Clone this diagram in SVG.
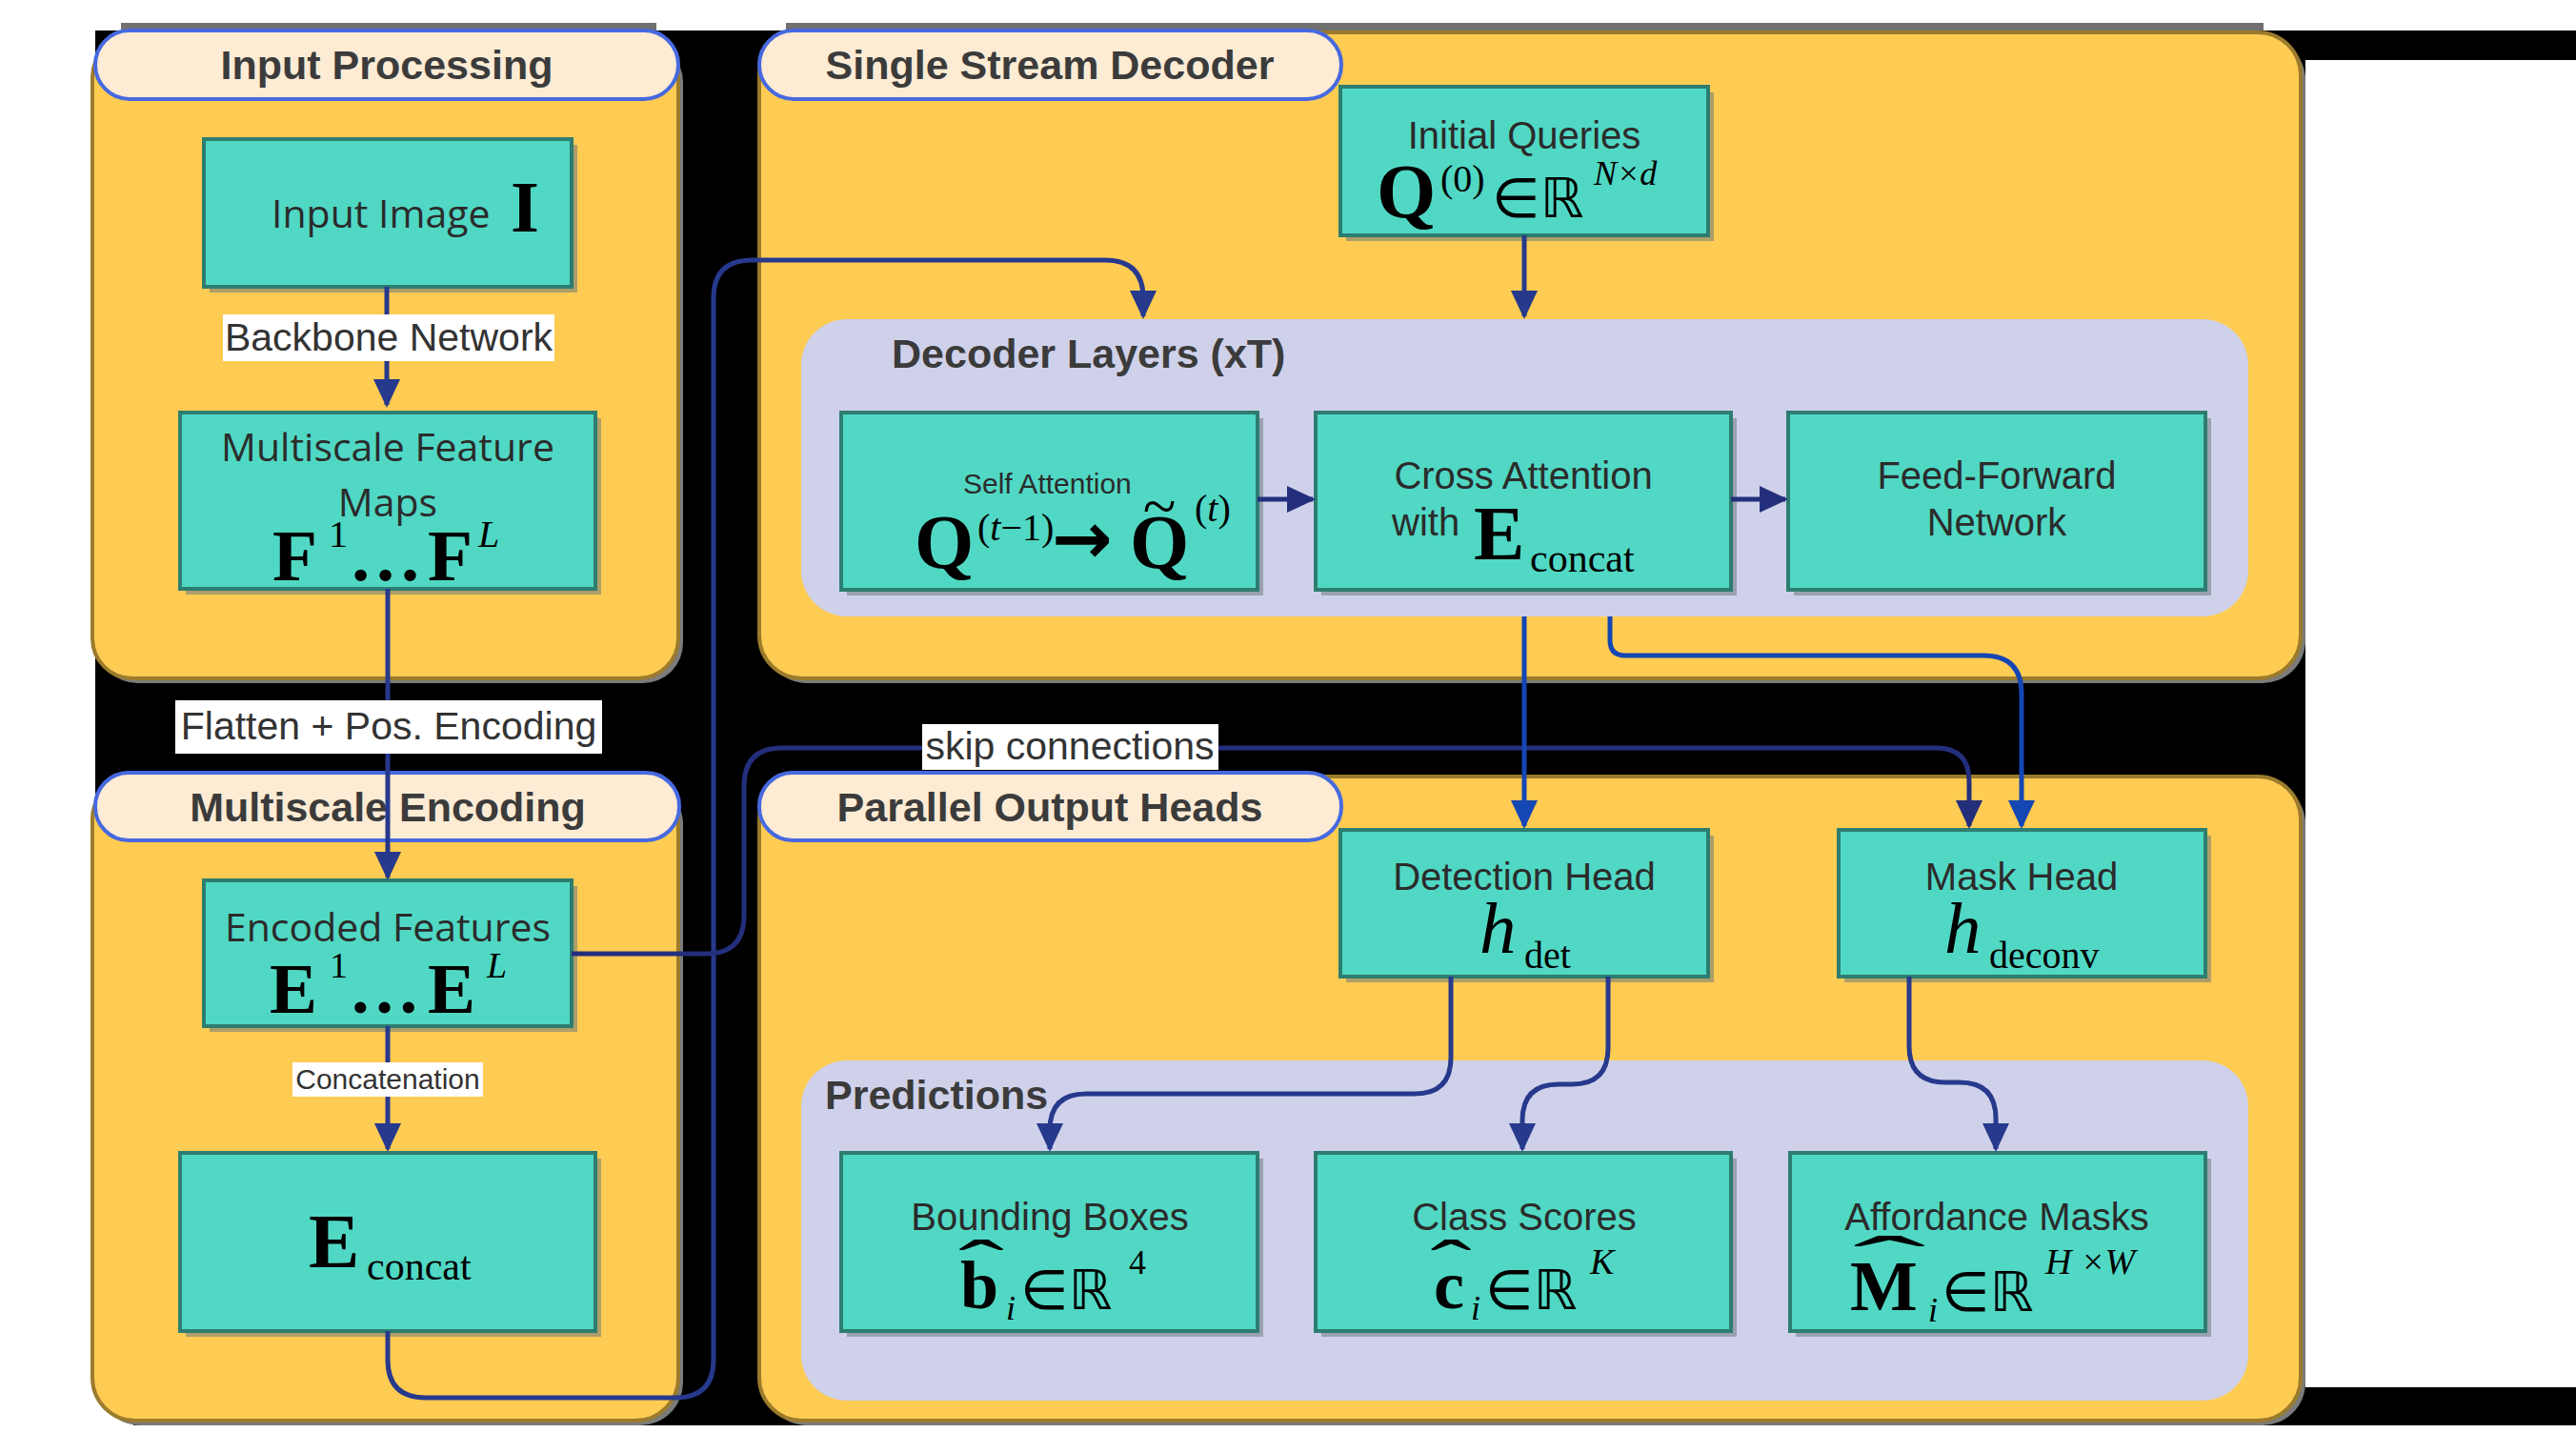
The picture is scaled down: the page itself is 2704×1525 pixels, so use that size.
<svg xmlns="http://www.w3.org/2000/svg" width="2704" height="1525" viewBox="0 0 2704 1525">
<defs>
<style>
.cont{fill:#fecb53;stroke:#9b7b2c;stroke-width:4}
.csh{fill:#7b7b7b}
.pill{fill:#fdebd4;stroke:#4669e0;stroke-width:4}
.pt{font-family:"Liberation Sans",Arial,sans-serif;font-weight:bold;font-size:43px;fill:#3b3b3b}
.panel{fill:#cfd1ea}
.box{fill:#50d8c4;stroke:#2d7d71;stroke-width:4}
.bsh{fill:#6b7a7c;opacity:0.55}
.t{font-family:"Liberation Sans",Arial,sans-serif;font-size:40px;fill:#2b2b2b}
.s{font-family:"Open Sans","Noto Sans",sans-serif;font-size:40px;fill:#2b2b2b}
.mb{font-family:"Liberation Serif","Times New Roman",serif;font-weight:bold;fill:#000}
.mr{font-family:"Liberation Serif","Times New Roman",serif;fill:#000}
.mi{font-family:"Liberation Serif","Times New Roman",serif;font-style:italic;fill:#000}
.ds{font-family:"DejaVu Sans",sans-serif;fill:#000}
.c{fill:none;stroke-width:5}
.nv{stroke:#26398c}
.bl{stroke:#1446b4}
.dk{stroke:#242f7c}
.lb{font-family:"Liberation Sans",Arial,sans-serif;font-size:41px;fill:#333}
.lbg{fill:#fff}
</style>
<marker id="aN" viewBox="0 0 30 28" refX="27" refY="14" markerWidth="30" markerHeight="28" markerUnits="userSpaceOnUse" orient="auto"><path d="M0,0 L30,14 L0,28 Z" fill="#26398c"/></marker>
<marker id="aB" viewBox="0 0 30 28" refX="27" refY="14" markerWidth="30" markerHeight="28" markerUnits="userSpaceOnUse" orient="auto"><path d="M0,0 L30,14 L0,28 Z" fill="#1446b4"/></marker>
<marker id="aD" viewBox="0 0 30 28" refX="27" refY="14" markerWidth="30" markerHeight="28" markerUnits="userSpaceOnUse" orient="auto"><path d="M0,0 L30,14 L0,28 Z" fill="#242f7c"/></marker>
</defs>

<rect width="2704" height="1525" fill="#fff"/>
<g id="background">
<rect x="100" y="32" width="2320" height="1420" fill="#000"/>
<rect x="140" y="1440" width="2280" height="56" fill="#000"/>
<rect x="2400" y="32" width="304" height="31" fill="#000"/>
<rect x="2400" y="1456" width="304" height="40" fill="#000"/>
<rect x="127" y="24" width="562" height="8" fill="#707070"/>
<rect x="825" y="24" width="1551" height="8" fill="#707070"/>
</g>

<g id="g-input-processing">
<rect class="csh" x="102" y="44" width="615" height="673" rx="42"/>
<rect class="cont" x="97" y="39" width="615" height="673" rx="42"/>
<rect class="pill" x="100" y="32" width="612" height="72" rx="36"/>
<text class="pt" x="406" y="83" text-anchor="middle">Input Processing</text>
</g>
<g id="g-decoder">
<rect class="csh" x="802" y="39" width="1618" height="678" rx="45"/>
<rect class="cont" x="797" y="34" width="1618" height="678" rx="45"/>
<rect class="pill" x="797" y="32" width="611" height="72" rx="36"/>
<text class="pt" x="1102" y="83" text-anchor="middle">Single Stream Decoder</text>
</g>
<g id="g-encoding">
<rect class="csh" x="102" y="820" width="615" height="676" rx="45"/>
<rect class="cont" x="97" y="815" width="615" height="676" rx="45"/>
<rect class="pill" x="100" y="811" width="613" height="71" rx="35"/>
<text class="pt" x="407" y="862" text-anchor="middle">Multiscale Encoding</text>
</g>
<g id="g-heads">
<rect class="csh" x="802" y="820" width="1618" height="676" rx="45"/>
<rect class="cont" x="797" y="815" width="1618" height="676" rx="45"/>
<rect class="pill" x="797" y="811" width="611" height="71" rx="35"/>
<text class="pt" x="1102" y="862" text-anchor="middle">Parallel Output Heads</text>
</g>
<g id="g-decoder-layers">
<rect class="panel" x="841" y="335" width="1519" height="312" rx="48"/>
<text class="pt" x="936" y="386">Decoder Layers (xT)</text>
</g>
<g id="g-predictions">
<rect class="panel" x="841" y="1113" width="1519" height="357" rx="48"/>
<text class="pt" x="866" y="1164">Predictions</text>
</g>

<g id="n-input-image">
<rect class="bsh" x="220" y="152" width="386" height="155"/>
<rect class="box" x="214" y="146" width="386" height="155"/>
<text class="s" x="285" y="239" style="font-size:41px">Input Image</text>
<text class="mb" x="536" y="243" font-size="77">I</text>
</g>
<g id="n-feature-maps">
<rect class="bsh" x="195" y="439" width="436" height="185"/>
<rect class="box" x="189" y="433" width="436" height="185"/>
<text class="s" x="407" y="484" text-anchor="middle" style="font-size:41px">Multiscale Feature</text>
<text class="s" x="407" y="542" text-anchor="middle" style="font-size:41px">Maps</text>
<text class="mb" x="286" y="609" font-size="77">F</text>
<text class="mr" x="345" y="574" font-size="40">1</text>
<text class="mb" x="366" y="609" font-size="77">…</text>
<text class="mb" x="449" y="609" font-size="77">F</text>
<text class="mi" x="502" y="574" font-size="40">L</text>
</g>
<g id="n-encoded">
<rect class="bsh" x="220" y="930" width="386" height="153"/>
<rect class="box" x="214" y="924" width="386" height="153"/>
<text class="s" x="407" y="988" text-anchor="middle" style="font-size:41px">Encoded Features</text>
<text class="mb" x="283" y="1063" font-size="75">E</text>
<text class="mr" x="346" y="1026" font-size="38">1</text>
<text class="mb" x="366" y="1063" font-size="75">…</text>
<text class="mb" x="449" y="1063" font-size="75">E</text>
<text class="mi" x="511" y="1026" font-size="38">L</text>
</g>
<g id="n-econcat">
<rect class="bsh" x="195" y="1216" width="436" height="187"/>
<rect class="box" x="189" y="1210" width="436" height="187"/>
<text class="mb" x="324" y="1330" font-size="80">E</text>
<text class="mr" x="385" y="1343" font-size="42">concat</text>
</g>
<g id="n-initial-queries">
<rect class="bsh" x="1413" y="97" width="386" height="156"/>
<rect class="box" x="1407" y="91" width="386" height="156"/>
<text class="t" x="1600" y="156" text-anchor="middle">Initial Queries</text>
<text class="mb" x="1445" y="228" font-size="80">Q</text>
<text class="mr" x="1512" y="201" font-size="40">(0)</text>
<text class="ds" x="1566" y="228" font-size="58">∈ℝ</text>
<text class="mi" x="1673" y="194" font-size="36">N×d</text>
</g>
<g id="n-self-attention">
<rect class="bsh" x="889" y="439" width="437" height="186"/>
<rect class="box" x="883" y="433" width="437" height="186"/>
<text class="t" x="1011" y="518" style="font-size:30px">Self Attention</text>
<text class="mb" x="960" y="596" font-size="80">Q</text>
<text class="mr" x="1026" y="567" font-size="40">(<tspan font-style="italic">t</tspan>−1)</text>
<text class="ds" x="1104" y="591" font-size="76" font-weight="bold">→</text>
<text class="mb" x="1186" y="596" font-size="80">Q</text>
<text class="mr" x="1217" y="553" font-size="64" text-anchor="middle">~</text>
<text class="mr" x="1254" y="547" font-size="40">(<tspan font-style="italic">t</tspan>)</text>
</g>
<g id="n-cross-attention">
<rect class="bsh" x="1387" y="439" width="436" height="186"/>
<rect class="box" x="1381" y="433" width="436" height="186"/>
<text class="t" x="1599" y="513" text-anchor="middle">Cross Attention</text>
<text class="t" x="1461" y="562">with</text>
<text class="mb" x="1547" y="587" font-size="80">E</text>
<text class="mr" x="1606" y="600" font-size="42">concat</text>
</g>
<g id="n-ffn">
<rect class="bsh" x="1883" y="439" width="438" height="186"/>
<rect class="box" x="1877" y="433" width="438" height="186"/>
<text class="t" x="2096" y="513" text-anchor="middle">Feed-Forward</text>
<text class="t" x="2096" y="562" text-anchor="middle">Network</text>
</g>
<g id="n-detection-head">
<rect class="bsh" x="1413" y="877" width="386" height="154"/>
<rect class="box" x="1407" y="871" width="386" height="154"/>
<text class="t" x="1600" y="934" text-anchor="middle">Detection Head</text>
<text class="mi" x="1553" y="1000" font-size="77">h</text>
<text class="mr" x="1600" y="1016" font-size="40">det</text>
</g>
<g id="n-mask-head">
<rect class="bsh" x="1936" y="877" width="385" height="154"/>
<rect class="box" x="1930" y="871" width="385" height="154"/>
<text class="t" x="2122" y="934" text-anchor="middle">Mask Head</text>
<text class="mi" x="2041" y="1000" font-size="77">h</text>
<text class="mr" x="2088" y="1016" font-size="40">deconv</text>
</g>
<g id="n-bounding-boxes">
<rect class="bsh" x="889" y="1216" width="437" height="187"/>
<rect class="box" x="883" y="1210" width="437" height="187"/>
<text class="t" x="1102" y="1291" text-anchor="middle">Bounding Boxes</text>
<text class="mb" x="1008" y="1373" font-size="72">b</text>
<text class="mr" transform="translate(1030,1351) scale(2,1)" font-size="72" text-anchor="middle">ˆ</text>
<text class="mi" x="1056" y="1385" font-size="36">i</text>
<text class="ds" x="1071" y="1374" font-size="58">∈ℝ</text>
<text class="mr" x="1185" y="1337" font-size="36">4</text>
</g>
<g id="n-class-scores">
<rect class="bsh" x="1387" y="1216" width="436" height="187"/>
<rect class="box" x="1381" y="1210" width="436" height="187"/>
<text class="t" x="1600" y="1291" text-anchor="middle">Class Scores</text>
<text class="mb" x="1505" y="1373" font-size="72">c</text>
<text class="mr" transform="translate(1523,1351) scale(1.8,1)" font-size="72" text-anchor="middle">ˆ</text>
<text class="mi" x="1544" y="1385" font-size="36">i</text>
<text class="ds" x="1559" y="1374" font-size="58">∈ℝ</text>
<text class="mi" x="1669" y="1337" font-size="38">K</text>
</g>
<g id="n-affordance-masks">
<rect class="bsh" x="1885" y="1216" width="436" height="187"/>
<rect class="box" x="1879" y="1210" width="436" height="187"/>
<text class="t" x="2096" y="1291" text-anchor="middle">Affordance Masks</text>
<text class="mb" x="1942" y="1375" font-size="75">M</text>
<text class="mr" transform="translate(1983,1347) scale(3.2,1)" font-size="72" text-anchor="middle">ˆ</text>
<text class="mi" x="2024" y="1387" font-size="36">i</text>
<text class="ds" x="2038" y="1376" font-size="58">∈ℝ</text>
<text class="mi" x="2147" y="1337" font-size="38">H ×W</text>
</g>

<g id="connectors">
<path class="c nv" d="M406 301 V425" marker-end="url(#aN)"/>
<path class="c nv" d="M407 618 V921" marker-end="url(#aN)"/>
<path class="c nv" d="M407 1077 V1206" marker-end="url(#aN)"/>
<path class="c nv" d="M407 1397 V1427 Q407 1467 447 1467 H709 Q749 1467 749 1427 V313 Q749 273 789 273 H1160 Q1200 273 1200 313 V332" marker-end="url(#aN)"/>
<path class="c dk" d="M600 1001 H741 Q781 1001 781 961 V825 Q781 785 821 785 H2032 Q2067 785 2067 820 V867" marker-end="url(#aD)"/>
<path class="c nv" d="M1600 247 V332" marker-end="url(#aN)"/>
<path class="c dk" d="M1320 524 H1378" marker-end="url(#aD)"/>
<path class="c dk" d="M1817 524 H1874" marker-end="url(#aD)"/>
<path class="c bl" d="M1600 647 V867" marker-end="url(#aB)"/>
<path class="c bl" d="M1690 647 V672 Q1690 688 1706 688 H2082 Q2122 688 2122 728 V867" marker-end="url(#aB)"/>
<path class="c nv" d="M1523 1025 V1110 Q1523 1148 1485 1148 H1140 Q1102 1148 1102 1186 V1206" marker-end="url(#aN)"/>
<path class="c nv" d="M1688 1025 V1100 Q1688 1138 1650 1138 H1636 Q1598 1138 1598 1176 V1206" marker-end="url(#aN)"/>
<path class="c nv" d="M2004 1025 V1098 Q2004 1136 2042 1136 H2057 Q2095 1136 2095 1174 V1206" marker-end="url(#aN)"/>
</g>

<g id="edge-labels">
<rect class="lbg" x="234" y="330" width="348" height="49"/>
<text class="lb" x="408" y="368" text-anchor="middle">Backbone Network</text>
<rect class="lbg" x="184" y="735" width="448" height="56"/>
<text class="lb" x="408" y="776" text-anchor="middle">Flatten + Pos. Encoding</text>
<rect class="lbg" x="307" y="1115" width="200" height="36"/>
<text class="lb" x="407" y="1143" text-anchor="middle" style="font-size:30px">Concatenation</text>
<rect class="lbg" x="968" y="760" width="311" height="48"/>
<text class="lb" x="1123" y="797" text-anchor="middle">skip connections</text>
</g>
</svg>
